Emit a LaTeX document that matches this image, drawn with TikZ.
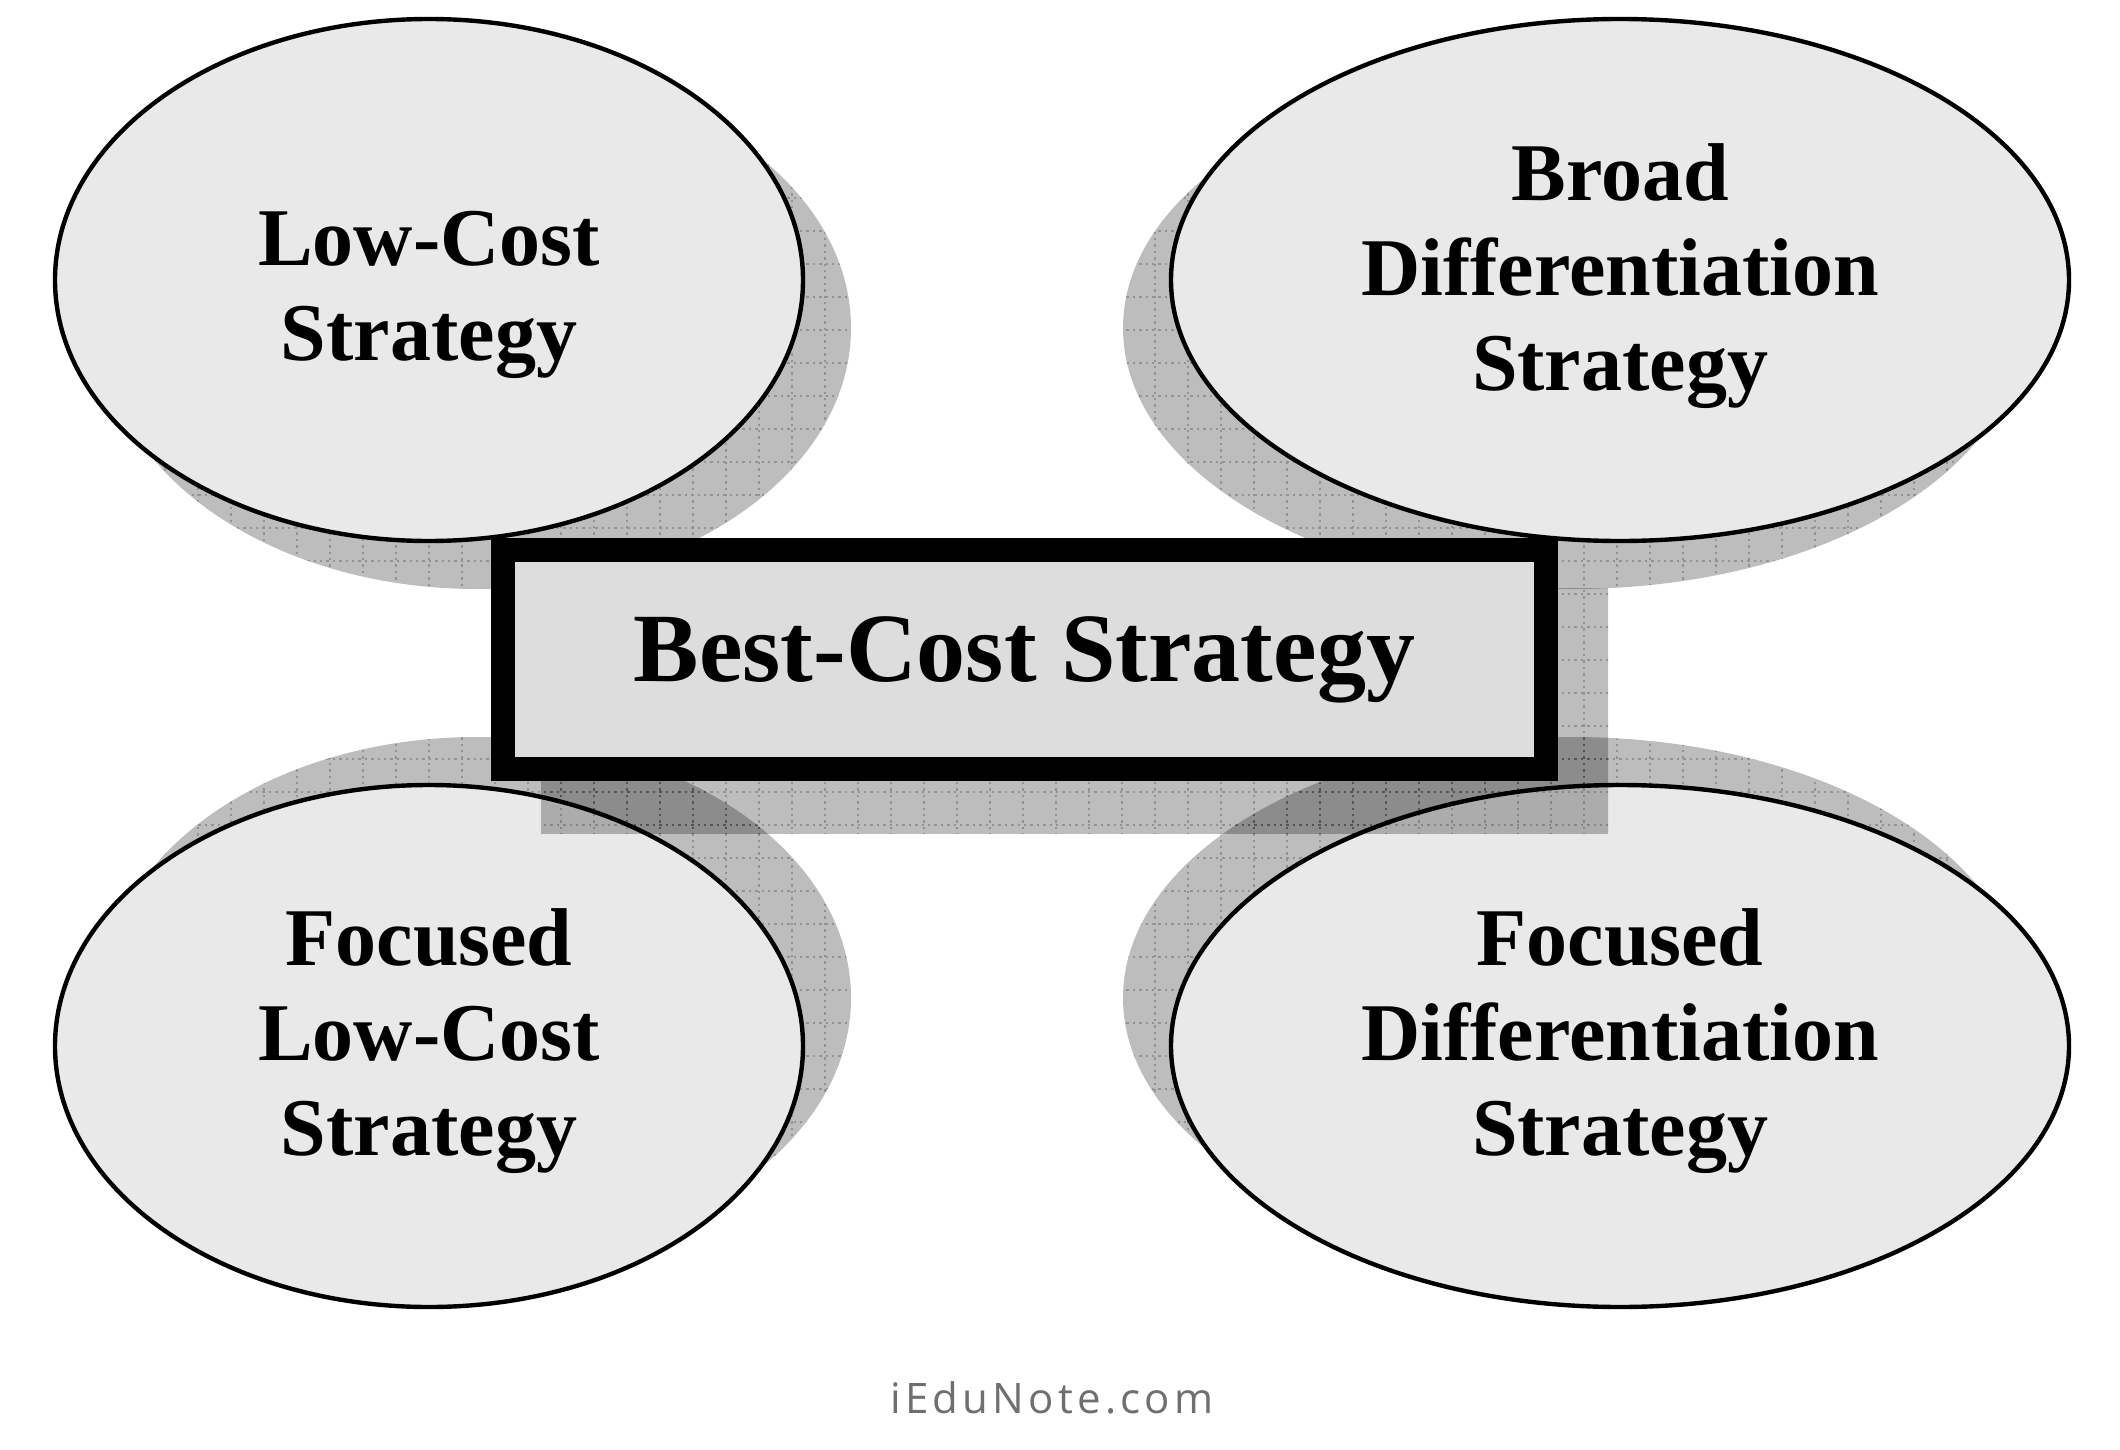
\documentclass[tikz,border=0pt]{standalone}
\usepackage{fontspec}
\setmainfont{Liberation Serif}
\newfontfamily\wmfont[LetterSpace=10]{Open Sans}
\usetikzlibrary{shapes.geometric}
\definecolor{ellfill}{HTML}{E9E9E9}
\definecolor{rectfill}{HTML}{DDDDDD}
\definecolor{wmgray}{HTML}{6F6F6F}
\begin{document}
\begin{tikzpicture}[x=0.5pt,y=-0.5pt,
  oval/.style={ellipse, draw=black, line width=2.2pt, fill=ellfill,
    minimum width=374pt, minimum height=261pt, inner sep=0pt, align=center,
    font=\fontsize{41}{47.5}\selectfont\bfseries},
  oval wide/.style={oval, minimum width=449pt},
  ovaltext/.style={inner sep=0pt, align=center, font=\fontsize{41}{47.5}\selectfont\bfseries},
  shadowfill/.style={fill=black, fill opacity=0.26},
  gridline/.style={draw=black, draw opacity=0.22, dotted, line width=1.2pt},
  bestbox/.style={draw=black, line width=12pt, fill=rectfill,
    minimum width=521.5pt, minimum height=109.5pt, inner sep=0pt,
    font=\fontsize{49}{55}\selectfont\bfseries},
  wmark/.style={anchor=base, text=wmgray, font=\wmfont\fontsize{21}{24}\selectfont}]
\useasboundingbox (0,0) rectangle (2120,1450);
\fill[white] (0,0) rectangle (2120,1450);

\coordinate (ctl) at (429,280);
\coordinate (ctr) at (1620,280);
\coordinate (cbl) at (429,1046);
\coordinate (cbr) at (1620,1046);
\coordinate (cbest) at (1024.5,659.5);

% ellipse shadows
\begin{scope}
  \clip ([shift={(48,48)}]ctl) ellipse [x radius=187pt, y radius=130.5pt];
  \fill[shadowfill] (0,0) rectangle (2120,1450);
  \draw[gridline] (0,1450) grid[step=16.5pt] (2120,0);
\end{scope}
\begin{scope}
  \clip ([shift={(-48,48)}]ctr) ellipse [x radius=224.5pt, y radius=130.5pt];
  \fill[shadowfill] (0,0) rectangle (2120,1450);
  \draw[gridline] (0,1450) grid[step=16.5pt] (2120,0);
\end{scope}
\begin{scope}
  \clip ([shift={(48,-48)}]cbl) ellipse [x radius=187pt, y radius=130.5pt];
  \fill[shadowfill] (0,0) rectangle (2120,1450);
  \draw[gridline] (0,1450) grid[step=16.5pt] (2120,0);
\end{scope}
\begin{scope}
  \clip ([shift={(-48,-48)}]cbr) ellipse [x radius=224.5pt, y radius=130.5pt];
  \fill[shadowfill] (0,0) rectangle (2120,1450);
  \draw[gridline] (0,1450) grid[step=16.5pt] (2120,0);
\end{scope}

% ellipses
\node[oval] (lowcost) at (ctl) {};
\node[ovaltext] (lowcosttext) at ([shift={(0,15)}]ctl) {Low-Cost\\Strategy};
\node[oval wide] (broad) at (ctr) {};
\node[ovaltext] (broadtext) at ([shift={(0,-4)}]ctr) {Broad\\Differentiation\\Strategy};
\node[oval] (flowcost) at (cbl) {};
\node[ovaltext] (flowcosttext) at ([shift={(0,-5)}]cbl) {Focused\\Low-Cost\\Strategy};
\node[oval wide] (fdiff) at (cbr) {};
\node[ovaltext] (fdifftext) at ([shift={(0,-5)}]cbr) {Focused\\Differentiation\\Strategy};

% box shadow
\begin{scope}
  \clip (541,588) rectangle (1608,833);
  \fill[shadowfill] (0,0) rectangle (2120,1450);
  \draw[gridline] (0,1450) grid[step=16.5pt] (2120,0);
\end{scope}

\node[bestbox] (best) at (cbest) {Best-Cost Strategy};

\node[wmark] (wm) at (1052,1413) {iEduNote.com};
\end{tikzpicture}
\end{document}
